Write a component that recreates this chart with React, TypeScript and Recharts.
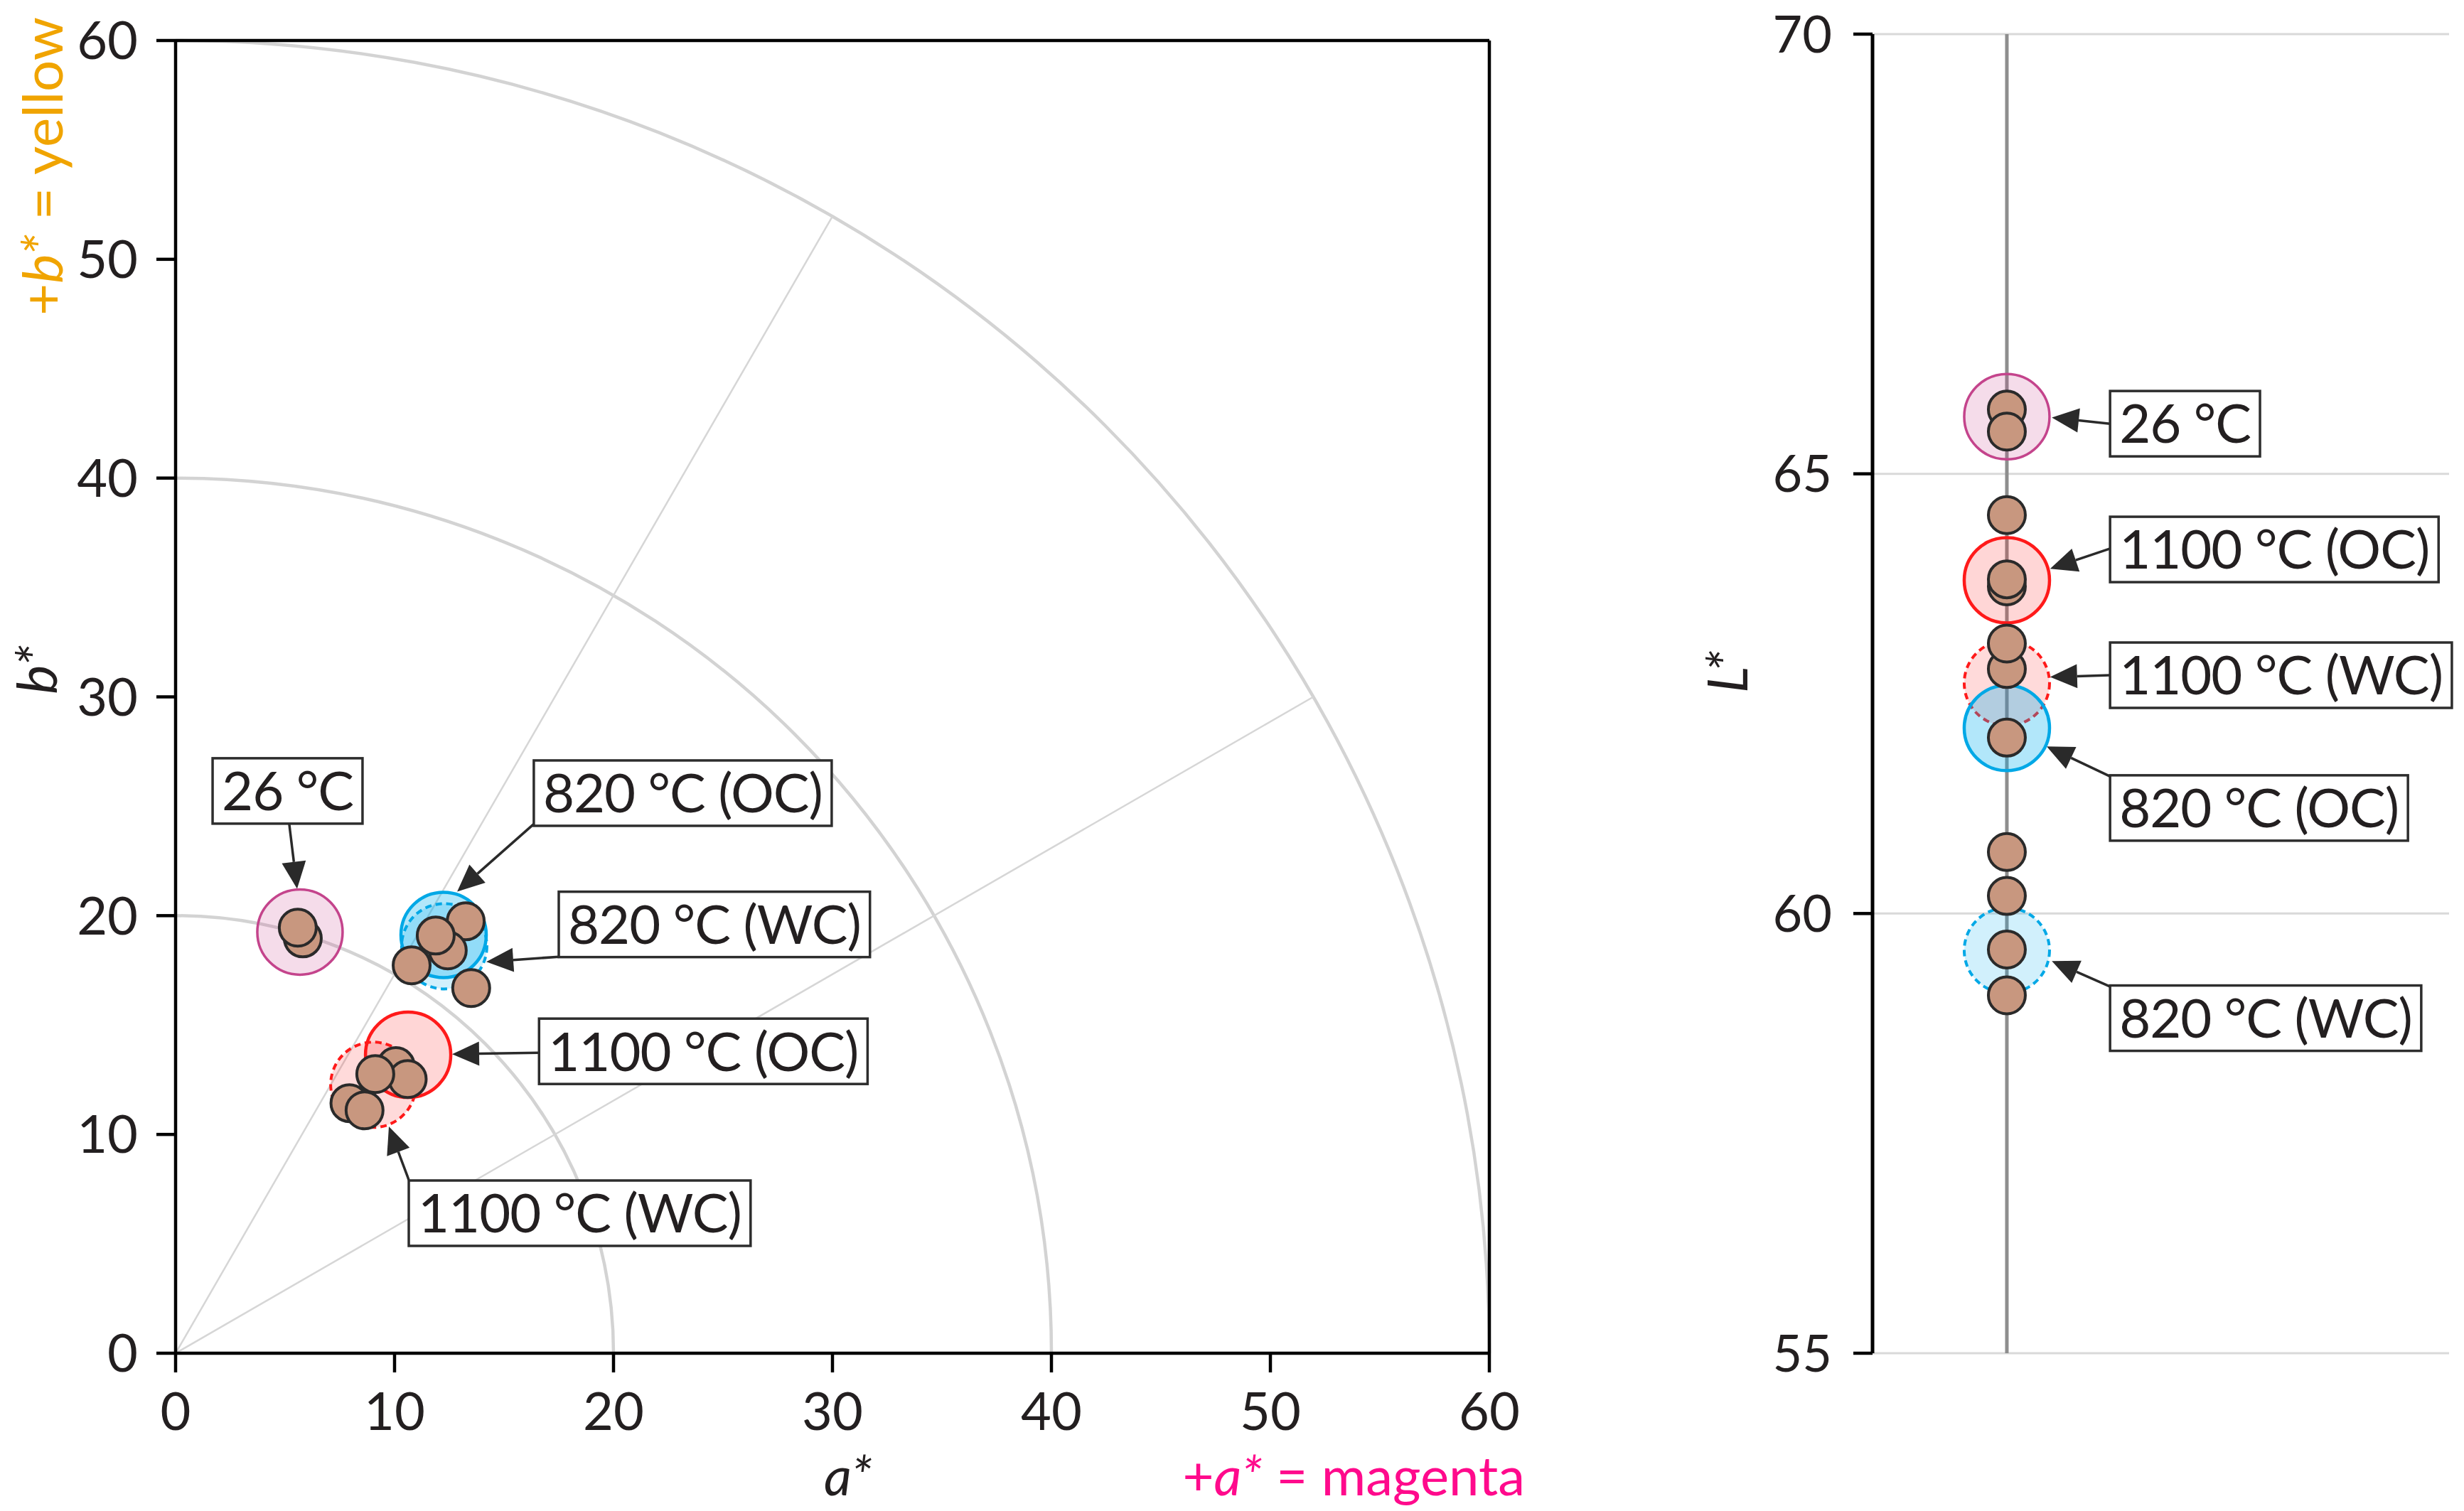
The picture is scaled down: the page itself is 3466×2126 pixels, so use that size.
import React from 'react';
import { ScatterChart, Scatter, XAxis, YAxis, ReferenceLine, ReferenceArea, CartesianGrid } from 'recharts';

if (typeof document !== 'undefined') document.body.style.margin = '0';

const FONT = 'Lato, "Open Sans", sans-serif';
const INK = '#231f20';
const POINT_FILL = '#c8977f';
const POINT_STROKE = '#2a2a2a';

// ---------- Left panel: a* / b* ----------
const abTicks = [0, 10, 20, 30, 40, 50, 60];
const chromaRings = [20, 40, 60];
const hueAngles = [30, 60];

const ab26 = [{ x: 5.81, y: 18.96 }, { x: 5.58, y: 19.45 }];
const ab820 = [
  { x: 13.25, y: 19.74 },
  { x: 12.43, y: 18.41 },
  { x: 11.88, y: 19.09 },
  { x: 10.78, y: 17.73 },
  { x: 13.5, y: 16.69 },
];
const ab1100 = [
  { x: 10.06, y: 13.12 },
  { x: 10.6, y: 12.53 },
  { x: 9.12, y: 12.76 },
  { x: 7.94, y: 11.43 },
  { x: 8.63, y: 11.1 },
];

const abGroupCentres = [
  { x: 5.68, y: 19.25, kind: 'c26' },
  { x: 12.24, y: 19.12, kind: 'oc820' },
  { x: 12.27, y: 18.6, kind: 'wc820' },
  { x: 10.62, y: 13.64, kind: 'oc1100' },
  { x: 9.03, y: 12.27, kind: 'wc1100' },
];

const abLabels = [
  { x: 1.69, y: 25.7, text: '26 °C' },
  { x: 16.36, y: 25.6, text: '820 °C (OC)' },
  { x: 17.5, y: 19.6, text: '820 °C (WC)' },
  { x: 16.6, y: 13.8, text: '1100 °C (OC)' },
  { x: 10.65, y: 6.4, text: '1100 °C (WC)' },
];

const abArrows = [
  { from: { x: 5.19, y: 24.19 }, to: { x: 5.55, y: 21.23 } },
  { from: { x: 16.36, y: 24.19 }, to: { x: 12.86, y: 21.1 } },
  { from: { x: 17.5, y: 18.12 }, to: { x: 14.19, y: 17.89 } },
  { from: { x: 16.59, y: 13.73 }, to: { x: 12.63, y: 13.67 } },
  { from: { x: 10.65, y: 7.92 }, to: { x: 9.74, y: 10.36 } },
];

// ---------- Right panel: L* ----------
const lTicks = [55, 60, 65, 70];
const lColumnX = 23.3;
const lValues = [65.73, 65.48, 64.53, 63.72, 63.8, 62.78, 63.07, 62.0, 60.7, 60.2, 59.59, 59.07];
const lGroupCentres = [
  { y: 65.65, kind: 'c26' },
  { y: 63.79, kind: 'oc1100' },
  { y: 62.62, kind: 'wc1100' },
  { y: 62.11, kind: 'oc820' },
  { y: 59.58, kind: 'wc820' },
];
const lLabels = [
  { x: 41.2, y: 65.57, text: '26 °C' },
  { x: 41.2, y: 64.14, text: '1100 °C (OC)' },
  { x: 41.2, y: 62.71, text: '1100 °C (WC)' },
  { x: 41.2, y: 61.2, text: '820 °C (OC)' },
  { x: 41.2, y: 58.81, text: '820 °C (WC)' },
];
const lArrows = [
  { from: { x: 41.2, y: 65.57 }, to: { x: 31.1, y: 65.64 } },
  { from: { x: 41.2, y: 64.15 }, to: { x: 30.8, y: 63.92 } },
  { from: { x: 41.2, y: 62.71 }, to: { x: 30.8, y: 62.69 } },
  { from: { x: 41.2, y: 61.56 }, to: { x: 30.2, y: 61.9 } },
  { from: { x: 41.2, y: 59.17 }, to: { x: 31.1, y: 59.46 } },
];

// ---------- styles ----------
const groupStyles: Record<string, any> = {
  c26: { fill: '#c83c8c', fillOpacity: 0.18, stroke: '#c4448c', strokeWidth: 3.5 },
  oc820: { fill: '#00aeef', fillOpacity: 0.3, stroke: '#00a8e6', strokeWidth: 4.5 },
  wc820: { fill: '#00aeef', fillOpacity: 0.18, stroke: '#00a8e6', strokeWidth: 4, strokeDasharray: '9 6' },
  oc1100: { fill: '#ff1a1a', fillOpacity: 0.18, stroke: '#ff1a1a', strokeWidth: 4.5 },
  wc1100: { fill: '#ff1a1a', fillOpacity: 0.16, stroke: '#ff1a1a', strokeWidth: 4, strokeDasharray: '9 6' },
};

const GROUP_R = 60;
const POINT_R = 26;
const LABEL_FONT = 76;
const LABEL_SPACING = -1;
const TICK_FONT = 74;

let measureCtx: CanvasRenderingContext2D | null = null;
function textWidth(t: string, size: number) {
  if (!measureCtx) {
    const c = document.createElement('canvas');
    measureCtx = c.getContext('2d');
  }
  if (!measureCtx) return t.length * size * 0.5;
  measureCtx.font = `${size}px Lato`;
  return measureCtx.measureText(t).width + LABEL_SPACING * t.length;
}

const GroupShape = (p: any) => {
  const kind = p.payload?.kind;
  const s = groupStyles[kind] || {};
  return <circle cx={p.cx} cy={p.cy} r={GROUP_R} {...s} />;
};

const PointShape = (p: any) => (
  <circle cx={p.cx} cy={p.cy} r={POINT_R} fill={POINT_FILL} stroke={POINT_STROKE} strokeWidth={4} />
);

const LabelShape = (p: any) => {
  const text = p.payload?.text || '';
  const pad = 13;
  const h = 92;
  const w = textWidth(text, LABEL_FONT) + pad * 2;
  return (
    <g>
      <rect x={p.cx} y={p.cy - h / 2} width={w} height={h} fill="#fff" stroke="#2d2d2d" strokeWidth={3.5} />
      <text
        x={p.cx + pad}
        y={p.cy + LABEL_FONT * 0.36}
        fontFamily={FONT}
        fontSize={LABEL_FONT}
        letterSpacing={LABEL_SPACING}
        fill={INK}
      >
        {text}
      </text>
    </g>
  );
};

const ArrowShape = (p: any) => {
  const { x1, y1, x2, y2 } = p;
  if ([x1, y1, x2, y2].some((v) => typeof v !== 'number' || isNaN(v))) return null;
  const dx = x2 - x1;
  const dy = y2 - y1;
  const len = Math.sqrt(dx * dx + dy * dy) || 1;
  const ux = dx / len;
  const uy = dy / len;
  const hl = 38;
  const hw = 17;
  const bx = x2 - ux * hl;
  const by = y2 - uy * hl;
  const nx = -uy;
  const ny = ux;
  return (
    <g>
      <line x1={x1} y1={y1} x2={bx} y2={by} stroke="#2a2a2a" strokeWidth={3.5} />
      <polygon
        points={`${x2},${y2} ${bx + nx * hw},${by + ny * hw} ${bx - nx * hw},${by - ny * hw}`}
        fill="#2a2a2a"
      />
    </g>
  );
};

const RingShape = (p: any) => {
  const { x, y, width, height } = p;
  if ([x, y, width, height].some((v) => typeof v !== 'number' || isNaN(v))) return null;
  return (
    <path
      d={`M ${x} ${y} A ${width} ${height} 0 0 1 ${x + width} ${y + height}`}
      fill="none"
      stroke="#d3d3d3"
      strokeWidth={4.5}
    />
  );
};

const tickStyle = { fill: INK, fontSize: TICK_FONT, fontFamily: FONT };

function LeftChart() {
  const rmax = 60;
  return (
    <ScatterChart width={2250} height={2126} margin={{ top: 57, right: 155, left: 47, bottom: 102 }}>
      <XAxis
        type="number"
        dataKey="x"
        domain={[0, 60]}
        ticks={abTicks}
        allowDataOverflow
        height={120}
        tickSize={27}
        tickMargin={28}
        tick={tickStyle}
        axisLine={{ stroke: '#000', strokeWidth: 4.5 }}
        tickLine={{ stroke: '#000', strokeWidth: 4.5 }}
      />
      <YAxis
        type="number"
        dataKey="y"
        domain={[0, 60]}
        ticks={abTicks}
        allowDataOverflow
        width={200}
        tickSize={27}
        tickMargin={26}
        tick={tickStyle}
        axisLine={{ stroke: '#000', strokeWidth: 4.5 }}
        tickLine={{ stroke: '#000', strokeWidth: 4.5 }}
      />
      {chromaRings.map((r) => (
        <ReferenceArea key={'ring' + r} x1={0} x2={r} y1={0} y2={r} ifOverflow="visible" shape={RingShape} />
      ))}
      {hueAngles.map((deg) => (
        <ReferenceLine
          key={'hue' + deg}
          segment={[
            { x: 0, y: 0 },
            { x: rmax * Math.cos((deg * Math.PI) / 180), y: rmax * Math.sin((deg * Math.PI) / 180) },
          ]}
          stroke="#d6d6d6"
          strokeWidth={2.5}
          ifOverflow="visible"
        />
      ))}
      <ReferenceLine y={60} stroke="#000" strokeWidth={4.5} ifOverflow="visible" />
      <ReferenceLine x={60} stroke="#000" strokeWidth={4.5} ifOverflow="visible" />
      <Scatter data={abGroupCentres} shape={GroupShape} isAnimationActive={false} />
      <Scatter data={ab26} shape={PointShape} isAnimationActive={false} />
      <Scatter data={ab820} shape={PointShape} isAnimationActive={false} />
      <Scatter data={ab1100} shape={PointShape} isAnimationActive={false} />
      {abArrows.map((a, i) => (
        <ReferenceLine key={'abar' + i} segment={[a.from, a.to]} shape={ArrowShape} ifOverflow="visible" />
      ))}
      <Scatter data={abLabels} shape={LabelShape} isAnimationActive={false} />
    </ScatterChart>
  );
}

function RightChart() {
  const lPoints = lValues.map((v) => ({ x: lColumnX, y: v }));
  const lCentres = lGroupCentres.map((g) => ({ x: lColumnX, y: g.y, kind: g.kind }));
  return (
    <ScatterChart width={1166} height={2126} margin={{ top: 48, right: 21, left: 134, bottom: 222 }}>
      <CartesianGrid vertical={false} stroke="#d9d9d9" strokeWidth={3} />
      <XAxis type="number" dataKey="x" domain={[0, 100]} hide height={0} />
      <YAxis
        type="number"
        dataKey="y"
        domain={[55, 70]}
        ticks={lTicks}
        allowDataOverflow
        width={200}
        tickSize={27}
        tickMargin={30}
        tick={{ ...tickStyle, fontSize: 72 }}
        axisLine={{ stroke: '#000', strokeWidth: 5 }}
        tickLine={{ stroke: '#000', strokeWidth: 4.5 }}
      />
      <ReferenceLine x={lColumnX} stroke="#8e8e8e" strokeWidth={5} />
      <Scatter data={lCentres} shape={GroupShape} isAnimationActive={false} />
      <Scatter data={lPoints} shape={PointShape} isAnimationActive={false} />
      {lArrows.map((a, i) => (
        <ReferenceLine key={'lar' + i} segment={[a.from, a.to]} shape={ArrowShape} ifOverflow="visible" />
      ))}
      <Scatter data={lLabels} shape={LabelShape} isAnimationActive={false} />
    </ScatterChart>
  );
}

function TitlesOverlay() {
  const fs = 78;
  return (
    <svg
      width={3466}
      height={2126}
      style={{ position: 'absolute', left: 0, top: 0, pointerEvents: 'none' }}
    >
      <text
        x={88}
        y={234}
        transform="rotate(-90 88 234)"
        textAnchor="middle"
        fontFamily={FONT}
        fontSize={fs}
        fill="#f0a400"
      >
        +<tspan fontStyle="italic">b*</tspan> = yellow
      </text>
      <text
        x={80}
        y={942}
        transform="rotate(-90 80 942)"
        textAnchor="middle"
        fontFamily={FONT}
        fontSize={fs}
        fontStyle="italic"
        fill={INK}
      >
        b*
      </text>
      <text x={1193} y={2104} textAnchor="middle" fontFamily={FONT} fontSize={76} fontStyle="italic" fill={INK}>
        a*
      </text>
      <text x={2145} y={2104} textAnchor="end" fontFamily={FONT} fontSize={76} fill="#ff0a8c">
        +<tspan fontStyle="italic">a*</tspan> = magenta
      </text>
      <text
        x={2458}
        y={945}
        transform="rotate(-90 2458 945)"
        textAnchor="middle"
        fontFamily={FONT}
        fontSize={fs}
        fontStyle="italic"
        fill={INK}
      >
        L*
      </text>
    </svg>
  );
}

export default function App() {
  return (
    <div style={{ position: 'relative', width: 3466, height: 2126, background: '#fff', overflow: 'hidden' }}>
      <div style={{ position: 'absolute', left: 0, top: 0 }}>
        <LeftChart />
      </div>
      <div style={{ position: 'absolute', left: 2300, top: 0 }}>
        <RightChart />
      </div>
      <TitlesOverlay />
    </div>
  );
}
